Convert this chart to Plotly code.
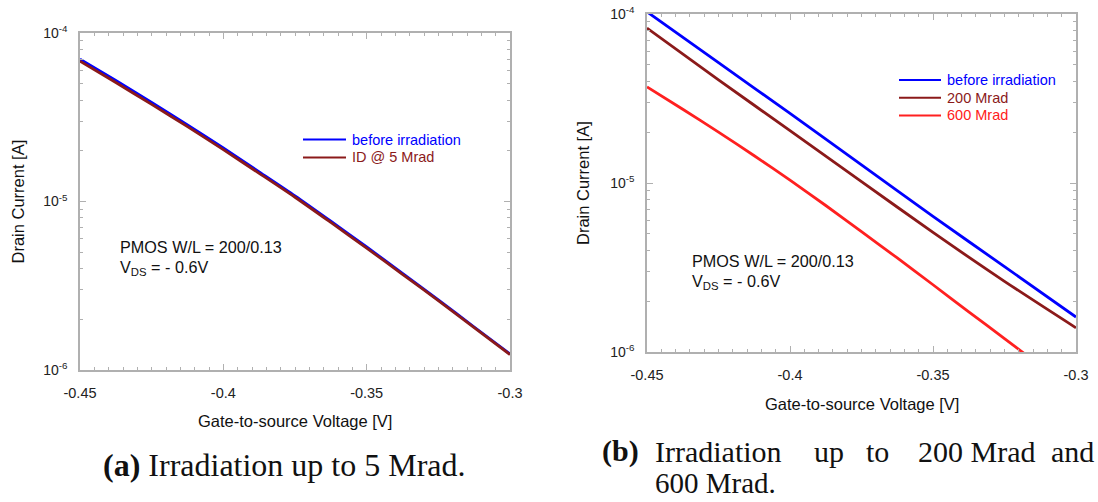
import plotly.graph_objects as go

# ---------------- data ----------------
vgs_a = [-0.45, -0.4375, -0.425, -0.4125, -0.4, -0.3875, -0.375, -0.3625, -0.35,
         -0.3375, -0.325, -0.3125, -0.3]
before_a = [7.0e-5, 5.22e-5, 3.87e-5, 2.85e-5, 2.08e-5, 1.50e-5, 1.08e-5, 7.64e-6,
            5.37e-6, 3.75e-6, 2.61e-6, 1.80e-6, 1.245e-6]
mrad5_a = [6.8e-5, 5.08e-5, 3.77e-5, 2.78e-5, 2.03e-5, 1.47e-5, 1.06e-5, 7.51e-6,
           5.29e-6, 3.70e-6, 2.58e-6, 1.785e-6, 1.235e-6]

vgs_b = [-0.45, -0.425, -0.4, -0.375, -0.35, -0.325, -0.3]
before_b = [1.03e-4, 5.15e-5, 2.58e-5, 1.28e-5, 6.35e-6, 3.2e-6, 1.61e-6]
mrad200_b = [8.25e-5, 4.08e-5, 2.04e-5, 1.02e-5, 5.1e-6, 2.62e-6, 1.39e-6]

vgs_b600 = [-0.45, -0.4375, -0.425, -0.4125, -0.4, -0.3875, -0.375, -0.3625, -0.35,
            -0.3375, -0.325, -0.3125, -0.3]
mrad600_b = [3.70e-5, 2.73e-5, 2.00e-5, 1.45e-5, 1.04e-5, 7.36e-6, 5.16e-6, 3.60e-6,
             2.50e-6, 1.73e-6, 1.20e-6, 8.3e-7, 5.74e-7]

x_ticks = [-0.45, -0.4, -0.35, -0.3]
x_ticktext = ["-0.45", "-0.4", "-0.35", "-0.3"]
y_ticks = [1e-6, 1e-5, 1e-4]
y_ticktext = ["10<sup>-6</sup>", "10<sup>-5</sup>", "10<sup>-4</sup>"]
y_minor = [m * 10.0 ** e for e in (-6, -5) for m in range(2, 10)]

legend_a = ["before irradiation", "ID @ 5 Mrad"]
legend_b = ["before irradiation", "200 Mrad", "600 Mrad"]

BLUE = "#0000ff"
BROWN = "#8b1a1a"
RED = "#ff2020"

W, H = 1098, 502
SANS = "Liberation Sans, Arial, sans-serif"
SERIF = "Liberation Serif, Times New Roman, serif"


def px(x):
    return x / W


def py(y):
    return 1 - y / H


fig = go.Figure()


def curve(x, y, color, xa, ya):
    fig.add_trace(go.Scatter(x=x, y=y, mode="lines",
                             line=dict(color=color, width=2.8, shape="spline", smoothing=0.8),
                             xaxis=xa, yaxis=ya, showlegend=False))


curve(vgs_a, before_a, BLUE, "x", "y")
curve(vgs_a, mrad5_a, BROWN, "x", "y")
curve(vgs_b, before_b, BLUE, "x2", "y2")
curve(vgs_b, mrad200_b, BROWN, "x2", "y2")
curve(vgs_b600, mrad600_b, RED, "x2", "y2")

AX_COL = "#b0b0b0"


def xax(domain, anchor):
    return dict(domain=domain, anchor=anchor, range=[-0.45, -0.3], tickmode="array",
                tickvals=x_ticks, ticktext=x_ticktext, ticks="inside", ticklen=6,
                tickwidth=1.2, tickcolor=AX_COL, showline=True, linecolor=AX_COL,
                linewidth=1.5, mirror="ticks", showgrid=False, zeroline=False,
                ticklabelstandoff=9, automargin=False,
                tickfont=dict(family=SANS, size=14.5, color="#222"),
                minor=dict(ticks="inside", ticklen=3.5, tickwidth=1, tickcolor=AX_COL,
                           tickmode="linear", tick0=-0.45, dtick=0.005, showgrid=False))


def yax(domain, anchor):
    return dict(domain=domain, anchor=anchor, type="log", range=[-6, -4], tickmode="array",
                tickvals=y_ticks, ticktext=y_ticktext, ticks="inside", ticklen=6,
                tickwidth=1.2, tickcolor=AX_COL, showline=True, linecolor=AX_COL,
                linewidth=1.5, mirror="ticks", showgrid=False, zeroline=False,
                ticklabelstandoff=8, automargin=False,
                tickfont=dict(family=SANS, size=14, color="#222"),
                minor=dict(ticks="inside", ticklen=3.5, tickwidth=1, tickcolor=AX_COL,
                           tickmode="array", tickvals=y_minor, showgrid=False))


# plot-area pixel boxes
A = dict(l=80, r=510, t=33, b=370)
B = dict(l=647, r=1076, t=14, b=352)

fig.update_layout(
    width=W, height=H, autosize=False,
    margin=dict(l=0, r=0, t=0, b=0, pad=0, autoexpand=False),
    paper_bgcolor="white", plot_bgcolor="white", showlegend=False,
    xaxis=xax([px(A["l"]), px(A["r"])], "y"),
    yaxis=yax([py(A["b"]), py(A["t"])], "x"),
    xaxis2=xax([px(B["l"]), px(B["r"])], "y2"),
    yaxis2=yax([py(B["b"]), py(B["t"])], "x2"),
)

ann = []
shapes = []


def text(x, y, s, size=16, color="#111", family=SANS, xanchor="left", angle=0):
    ann.append(dict(x=px(x), y=py(y), xref="paper", yref="paper", text=s, showarrow=False,
                    xanchor=xanchor, yanchor="middle", textangle=angle,
                    font=dict(family=family, size=size, color=color)))


# axis titles
text((A["l"] + A["r"]) / 2, 421, "Gate-to-source Voltage [V]", size=16.5, xanchor="center")
text((B["l"] + B["r"]) / 2, 404, "Gate-to-source Voltage [V]", size=16.5, xanchor="center")
text(17, (A["t"] + A["b"]) / 2, "Drain Current [A]", size=16.5, xanchor="center", angle=-90)
text(583, (B["t"] + B["b"]) / 2, "Drain Current [A]", size=16.5, xanchor="center", angle=-90)

# device annotations
text(118, 247, "PMOS W/L = 200/0.13", size=16.2)
text(118, 268, "V<sub>DS</sub> = - 0.6V", size=16.2)
text(690, 261, "PMOS W/L = 200/0.13", size=16.2)
text(690, 282, "V<sub>DS</sub> = - 0.6V", size=16.2)


# legends (swatch + coloured label)
def legend_entry(x0, x1, y, label, color):
    shapes.append(dict(type="line", xref="paper", yref="paper", x0=px(x0), x1=px(x1),
                       y0=py(y), y1=py(y), line=dict(color=color, width=2)))
    text(x1 + 4, y, label, size=14.5, color=color)


for i, (lab, col) in enumerate(zip(legend_a, [BLUE, BROWN])):
    legend_entry(303, 346, 139.5 + 18 * i, lab, col)
for i, (lab, col) in enumerate(zip(legend_b, [BLUE, BROWN, RED])):
    legend_entry(899, 941, 80 + 17.7 * i, lab, col)

# captions
text(284, 465, "<b>(a)</b> Irradiation up to 5 Mrad.", size=32, family=SERIF, xanchor="center")
text(600, 451, "<b>(b)</b>", size=30, family=SERIF)
text(653, 451, "Irradiation", size=30, family=SERIF)
text(812, 451, "up", size=30, family=SERIF)
text(864, 451, "to", size=30, family=SERIF)
text(916, 451, "200 Mrad", size=30, family=SERIF)
text(1096, 451, "and", size=30, family=SERIF, xanchor="right")
text(653, 483, "600 Mrad.", size=29, family=SERIF)

fig.update_layout(annotations=ann, shapes=shapes)
fig.write_html("out.html")
